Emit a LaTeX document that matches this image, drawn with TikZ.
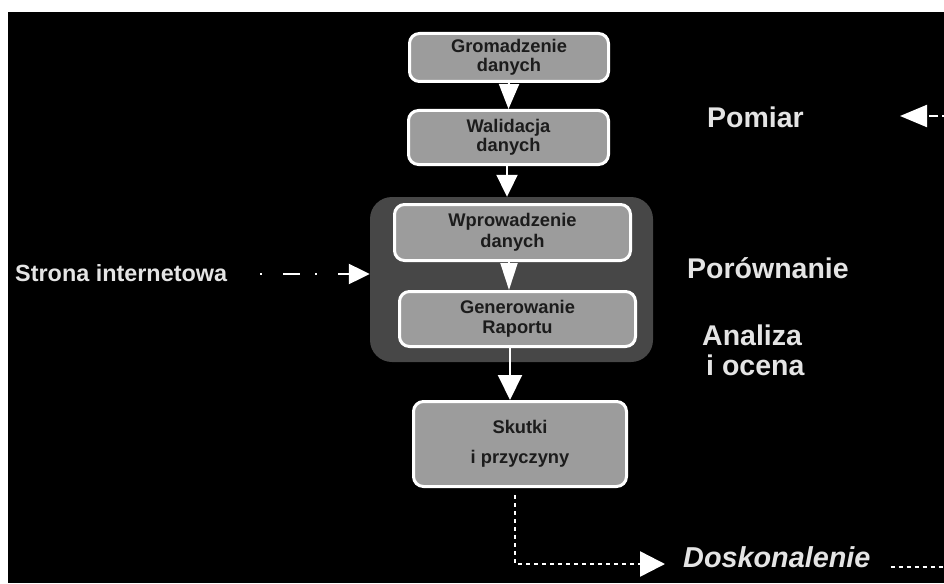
\documentclass[tikz,border=0pt]{standalone}
\usepackage{fontspec}
\setmainfont{Liberation Sans}
\usetikzlibrary{arrows.meta,calc}
\definecolor{boxfill}{HTML}{9C9C9C}
\definecolor{contfill}{HTML}{474747}
\definecolor{boxtext}{HTML}{1C1C1C}
\definecolor{labtext}{HTML}{E4E4E4}
\tikzset{
  procbox/.style={draw=white, line width=3pt, fill=boxfill, rounded corners=10pt,
    text=boxtext, align=center, inner sep=0pt, font=\bfseries\fontsize{18.3}{19.5}\selectfont},
  container/.style={fill=contfill, rounded corners=22pt, inner sep=0pt},
  biglabel/.style={text=labtext, inner sep=0pt, font=\bfseries\fontsize{28.5}{30}\selectfont, align=left},
  flowarrow/.style={draw=white, line width=2pt},
  dashdotline/.style={draw=white, line width=2.2pt, dash pattern=on 2pt off 21pt on 17pt off 15pt},
  dottedline/.style={draw=white, line width=2.5pt, dash pattern=on 4pt off 4pt},
}
\begin{document}
\begin{tikzpicture}[x=1pt,y=-1pt]
% background
\fill[white] (0,0) rectangle (944,583);
\fill[black] (8,12) rectangle (944,583);
\useasboundingbox (0,0) rectangle (944,583);

% container
\node[container, minimum width=283pt, minimum height=165pt] (cont) at (511.5,279.5) {};

% process boxes
\node[procbox, minimum width=199pt, minimum height=48pt] (b1) at (509,57.5) {Gromadzenie\\danych};
\node[procbox, minimum width=200pt, minimum height=54pt] (b2) at (508.5,137.5) {Walidacja\\danych};
\node[procbox, minimum width=236pt, minimum height=56pt, font=\bfseries\fontsize{18.3}{20.5}\selectfont] (b3) at (512.5,232.5) {Wprowadzenie\\danych};
\node[procbox, minimum width=236pt, minimum height=55pt, font=\bfseries\fontsize{18.3}{20.5}\selectfont] (b4) at (517.5,319) {Generowanie\\Raportu};
\node[procbox, minimum width=213pt, minimum height=85pt, font=\bfseries\fontsize{18.3}{30}\selectfont] (b5) at (520,444) {Skutki\\i przyczyny};

% arrows between boxes
\draw[flowarrow, -{Triangle[width=20pt,length=25pt]}] (b1.south) -- (b2.north);
\draw[flowarrow, -{Triangle[width=21pt,length=22pt]}] (b2.south -| 507,0) -- (cont.north -| 507,0);
\draw[flowarrow, -{Triangle[width=17pt,length=27pt]}] (b3.south -| 509,0) -- (b4.north -| 509,0);
\draw[flowarrow, -{Triangle[width=24pt,length=25pt]}] (b4.south -| 510,0) -- (b5.north -| 510,0);

% labels
\node[biglabel, anchor=base west, font=\bfseries\fontsize{23.4}{25}\selectfont] (strona) at (15,281) {Strona internetowa};
\node[biglabel, anchor=base west] (pomiar) at (707,128) {Pomiar};
\node[biglabel, anchor=base west] (porown) at (687,278) {Porównanie};
\node[biglabel, anchor=base west] (analiza) at (702,375) {Analiza\\[0pt]\hspace*{4pt}i ocena};
\node[biglabel, anchor=base west, font=\bfseries\itshape\fontsize{28.8}{30}\selectfont] (dosk) at (683,567) {Doskonalenie};

% Strona internetowa -> container
\draw[dashdotline, -{Triangle[width=20pt,length=21pt]}, shorten <=33pt] (strona.east |- 0,274) -- (cont.west |- 0,274);

% right input -> Pomiar
\coordinate (pomsrc) at (944,116);
\coordinate (pomtip) at (900,116);
\draw[draw=white, line width=2.2pt, dash pattern=on 2pt off 4pt on 9pt off 6pt, -{Triangle[width=22pt,length=27pt]}] (pomsrc) -- (pomtip);

% Skutki -> Doskonalenie
\coordinate (dtip) at (665,564);
\draw[dottedline, shorten <=7pt, -{Triangle[width=25pt,length=25pt]}] ([xshift=-5pt]b5.south) |- (dtip);
\coordinate (dend) at (944,567);
\draw[dottedline] ([xshift=20pt]dosk.base east) -- (dend);
\end{tikzpicture}
\end{document}
